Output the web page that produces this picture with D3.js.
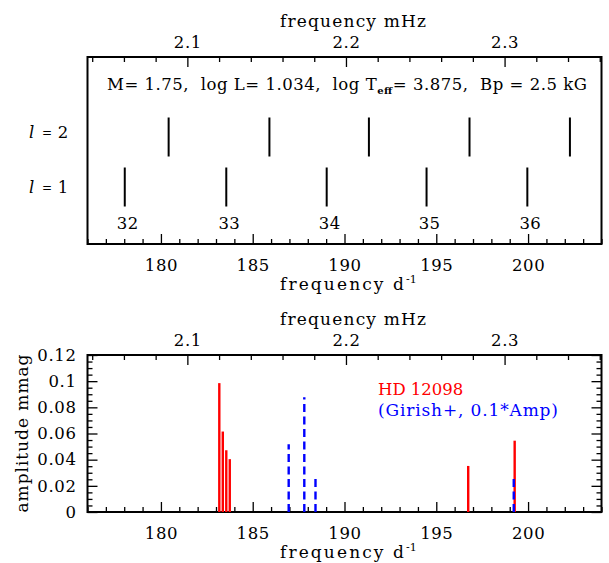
<!DOCTYPE html>
<html><head><meta charset="utf-8">
<script src="https://cdn.jsdelivr.net/npm/d3@7"></script>
<style>body{margin:0;background:#fff}svg{display:block}text{font-family:"DejaVu Serif",serif;fill:#000}</style>
</head><body><svg id="c" width="609" height="563"></svg>
<script>
// ---- data ----
const l1Freq = [178.03, 183.56, 189.03, 194.47, 199.96];
const l1Order = [32, 33, 34, 35, 36];
const l2Freq = [180.42, 185.91, 191.33, 196.81, 202.28];
const redFreq = [183.18, 183.37, 183.56, 183.75, 196.74, 199.27];
const redAmp = [0.0985, 0.0615, 0.0472, 0.0404, 0.0352, 0.0545];
const blueFreq = [186.96, 187.81, 188.42, 199.22];
const blueAmp = [0.0517, 0.0878, 0.0281, 0.0283];
const dTicks = [180, 185, 190, 195, 200];
const mTicks = [2.1, 2.2, 2.3];
const ampTicks = [0, 0.02, 0.04, 0.06, 0.08, 0.1, 0.12];
const ampLabels = ["0", "0.02", "0.04", "0.06", "0.08", "0.1", "0.12"];
const lValues = [1, 2];

const svg = d3.select("#c");
const L = 87.5, R = 601.5;
const x = d3.scaleLinear().domain([176, 204]).range([L, R]);
const xm = d3.scaleLinear().domain([176 / 86.4, 204 / 86.4]).range([L, R]);
const dMinor = d3.range(176, 205, 1).filter(v => v % 5 !== 0);
const mMinor = d3.range(102, 119, 1).map(v => v / 50).filter(v => Math.abs(v * 10 - Math.round(v * 10)) > 1e-6);
const aMinor = d3.range(0, 24).map(v => v * 0.005).filter((v, i) => i % 4 !== 0);

const top1 = 57, bot1 = 244, top2 = 355, bot2 = 512;
const yL = d3.scaleLinear().domain([0, 3]).range([237, 87]);
const yA = d3.scaleLinear().domain([0, 0.12]).range([bot2, top2]);

function clean(g) { g.select(".domain").remove(); g.selectAll("line").attr("stroke", "#000").attr("stroke-width", 1.3); }
function labelFont(g) { g.selectAll("text").attr("font-family", "DejaVu Serif").attr("font-size", 16.5).attr("letter-spacing", 0.6).attr("fill", "#000"); }

function panelX(top, bot) {
  svg.append("g").attr("transform", `translate(0,${bot})`)
    .call(d3.axisBottom(x).tickValues(dTicks).tickSize(-10).tickPadding(9).tickFormat(d3.format("d")))
    .call(clean).call(labelFont).selectAll("text").attr("dy", "1.1em");
  svg.append("g").attr("transform", `translate(0,${bot})`)
    .call(d3.axisBottom(x).tickValues(dMinor).tickSize(-5).tickFormat(""))
    .call(clean);
  svg.append("g").attr("transform", `translate(0,${top})`)
    .call(d3.axisTop(xm).tickValues(mTicks).tickSize(-10).tickPadding(9).tickFormat(d3.format(".1f")))
    .call(clean).call(labelFont);
  svg.append("g").attr("transform", `translate(0,${top})`)
    .call(d3.axisTop(xm).tickValues(mMinor).tickSize(-5).tickFormat(""))
    .call(clean);
  svg.append("rect").attr("x", L).attr("y", top).attr("width", R - L).attr("height", bot - top)
    .attr("fill", "none").attr("stroke", "#000").attr("stroke-width", 2);
  svg.append("text").attr("x", 280).attr("y", top - 30)
    .attr("font-size", 17).attr("textLength", 146).attr("lengthAdjust", "spacing").text("frequency mHz");
  svg.append("text").attr("x", 280).attr("y", bot + 46)
    .attr("font-size", 17).attr("textLength", 124).attr("lengthAdjust", "spacing").text("frequency d");
  svg.append("text").attr("x", 406).attr("y", bot + 39)
    .attr("font-size", 11).text("-1");
}

// ---- top panel ----
panelX(top1, bot1);
const pt = svg.append("text").attr("x", 107).attr("y", 90).attr("font-size", 16.5)
  .attr("textLength", 480).attr("lengthAdjust", "spacing").attr("xml:space", "preserve");
pt.append("tspan").text("M= 1.75,  log L= 1.034,  log T");
pt.append("tspan").attr("font-size", 10).attr("font-weight", "bold").attr("dy", 4).text("eff");
pt.append("tspan").attr("dy", -4).text("= 3.875,  Bp = 2.5 kG");

const series = [{ l: 2, f: l2Freq }, { l: 1, f: l1Freq }];
series.forEach(s => {
  svg.append("g").selectAll("line").data(s.f).join("line")
    .attr("x1", d => x(d)).attr("x2", d => x(d))
    .attr("y1", yL(s.l - 0.39)).attr("y2", yL(s.l + 0.39))
    .attr("stroke", "#000").attr("stroke-width", 2);
});
lValues.forEach(l => {
  const yy = yL(l) + (l === 1 ? 6 : 1);
  const g = svg.append("g");
  g.append("text").attr("x", 29).attr("y", yy).attr("font-size", 16.5).attr("font-style", "italic").text("l");
  g.append("text").attr("x", 47).attr("y", yy - 1.5).attr("font-size", 12).attr("text-anchor", "middle").text("=");
  g.append("text").attr("x", 63).attr("y", yy).attr("font-size", 16.5).attr("text-anchor", "middle").text(l);
});
svg.append("g").selectAll("text").data(l1Freq).join("text")
  .attr("x", d => x(d) + 3).attr("y", 229).attr("text-anchor", "middle")
  .attr("font-size", 16.5).attr("letter-spacing", 0.4).text((d, i) => l1Order[i]);

// ---- bottom panel ----
panelX(top2, bot2);
svg.append("g").attr("transform", `translate(${L},0)`)
  .call(d3.axisLeft(yA).tickValues(ampTicks).tickSize(-10).tickPadding(11).tickFormat((d, i) => ampLabels[i]))
  .call(clean).call(labelFont);
svg.append("g").attr("transform", `translate(${L},0)`)
  .call(d3.axisLeft(yA).tickValues(aMinor).tickSize(-5).tickFormat(""))
  .call(clean);
svg.append("g").attr("transform", `translate(${R},0)`)
  .call(d3.axisRight(yA).tickValues(ampTicks).tickSize(-10).tickFormat(""))
  .call(clean);
svg.append("g").attr("transform", `translate(${R},0)`)
  .call(d3.axisRight(yA).tickValues(aMinor).tickSize(-5).tickFormat(""))
  .call(clean);
svg.append("text").attr("transform", `translate(28,${(top2 + bot2) / 2 + 79}) rotate(-90)`)
  .attr("font-size", 17).attr("textLength", 158).attr("lengthAdjust", "spacing").text("amplitude mmag");

svg.append("g").selectAll("line").data(redFreq).join("line")
  .attr("x1", d => x(d)).attr("x2", d => x(d))
  .attr("y1", yA(0)).attr("y2", (d, i) => yA(redAmp[i]))
  .attr("stroke", "#ff0000").attr("stroke-width", 2.4);
svg.append("g").selectAll("line").data(blueFreq).join("line")
  .attr("x1", d => x(d)).attr("x2", d => x(d))
  .attr("y1", yA(0)).attr("y2", (d, i) => yA(blueAmp[i]))
  .attr("stroke", "#0000ff").attr("stroke-width", 2.4).attr("stroke-dasharray", "8,4.5");

svg.append("text").attr("x", 378).attr("y", 395).attr("font-size", 16.5)
  .style("fill", "#ff0000").text("HD 12098");
svg.append("text").attr("x", 378).attr("y", 416).attr("font-size", 17)
  .attr("textLength", 180).attr("lengthAdjust", "spacing").style("fill", "#0000ff").text("(Girish+, 0.1*Amp)");
</script></body></html>
